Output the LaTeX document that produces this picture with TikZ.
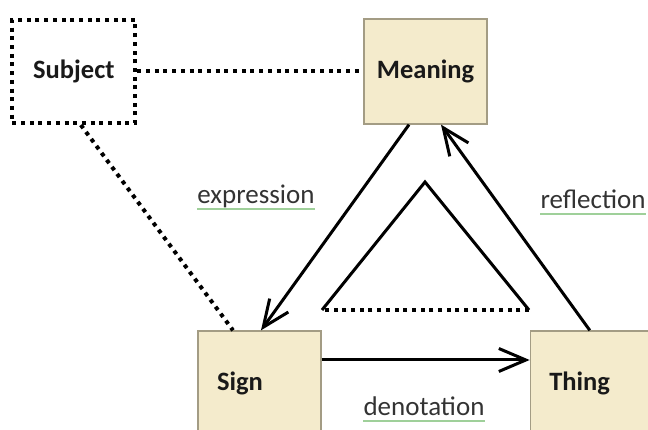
\documentclass[tikz,border=0pt]{standalone}
\usepackage{fontspec}
\setmainfont{Carlito}
\usetikzlibrary{arrows.meta,positioning}
\definecolor{boxfill}{HTML}{F4EBCC}
\definecolor{boxline}{HTML}{A39C84}
\definecolor{ulgreen}{HTML}{9FD09A}
\definecolor{lbltext}{HTML}{333333}
\tikzset{
    %Define standard arrow tip
    >={Straight Barb[length=27pt,width=23pt,line width=3pt]},
    %Define style for boxes
    box/.style={
           rectangle,
           draw=boxline, line width=1.3pt,
           fill=boxfill,
           minimum width=123pt,
           minimum height=105pt,
           inner sep=0pt,
           text=black!90,
           font=\fontsize{26.5}{30}\selectfont\bfseries},
    leftbox/.style={
           box,
           text width=85pt,
           inner xsep=19pt,
           align=left},
    dotbox/.style={
           box,
           draw=black,
           fill=none,
           line width=4pt,
           dash pattern=on 4pt off 4.7pt},
    % Define arrow style
    imply/.style={
           ->,
           line width=3pt},
    solid line/.style={
           line width=3pt,
           line join=miter},
    dots/.style={
           line width=4pt,
           dash pattern=on 4pt off 4.7pt},
    % Define label style
    lbl/.style={
           anchor=base,
           inner sep=0pt,
           text depth=5pt,
           text=lbltext,
           font=\fontsize{27}{30}\selectfont},
    uline/.style={
           draw=ulgreen,
           line width=1.4pt}
}
\begin{document}
\begin{tikzpicture}[x=1pt, y=1pt]
    \useasboundingbox (0,0) rectangle (648,430);
    \clip (0,0) rectangle (648,430);
 %nodes
    \node[box] (meaning) at (425.5,358.5) {Meaning};
    \node[dotbox, minimum height=103pt, left=226pt of meaning] (subject) {Subject};
    \node[leftbox] (sign) at (259.5,46.5) {Sign};
    \node[leftbox, right=208pt of sign] (thing) {Thing};
    \coordinate (tritop) at (425,248);
    \coordinate (trileft) at (322,120);
    \coordinate (triright) at (529,120);
    \node[lbl] (expr) at (256,226) {expression};
    \node[lbl] (refl) at (593,221) {reflection};
    \node[lbl] (deno) at (424,14) {denotation};
 %edges
    \draw[dots] (subject) -- (meaning);
    \draw[dots] ([xshift=7pt]subject.south) -- ([xshift=-26.5pt]sign.north);
    \draw[imply] ([xshift=-16.5pt]meaning.south) -- ([xshift=1.5pt]sign.north);
    \draw[imply] ([xshift=-2pt]thing.north) -- ([xshift=15.5pt]meaning.south);
    \draw[imply] ([yshift=23.5pt]sign.east) -- ([yshift=23.5pt]thing.west);
    \draw[solid line] (trileft) -- (tritop) -- (triright);
    \draw[dots] (triright) -- (trileft);
 %underlines
    \draw[uline] (expr.south west) -- (expr.south east);
    \draw[uline] (refl.south west) -- (refl.south east);
    \draw[uline] (deno.south west) -- (deno.south east);
\end{tikzpicture}
\end{document}
